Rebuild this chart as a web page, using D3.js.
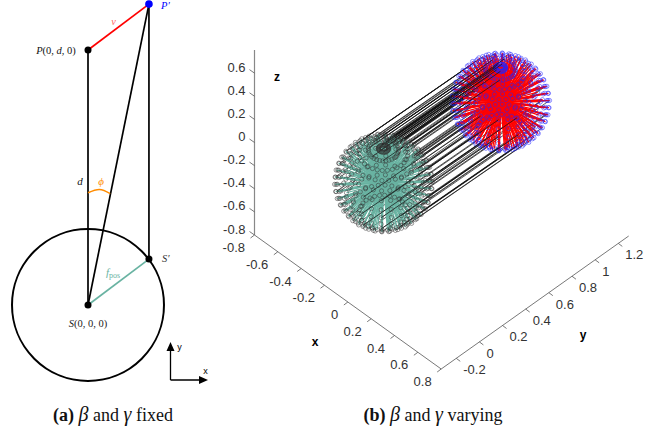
<!DOCTYPE html>
<html>
<head>
<meta charset="utf-8">
<script src="https://cdn.jsdelivr.net/npm/d3@7"></script>
<style>
body { margin: 0; background: #fff; }
svg { display: block; }
.serif { font-family: "Liberation Serif", serif; }
.sans { font-family: "Liberation Sans", sans-serif; }
</style>
</head>
<body>
<div class="chart"></div>
<script>
// left panel values, in units of d
var pointNames = ["S", "P", "Pp", "Sp"];
var pointX = [0, 0, 0.239, 0.239];
var pointY = [0, 1, 1.18, 0.18];
var sphereRadius = 0.298;
var phiArcX = [0, 0.045, 0.087];
var phiArcY = [0.44, 0.453, 0.437];

// right panel values
var xTicks = [-0.8, -0.6, -0.4, -0.2, 0, 0.2, 0.4, 0.6, 0.8];
var yTicks = [-0.2, 0, 0.2, 0.4, 0.6, 0.8, 1, 1.2];
var zTicks = [-0.8, -0.6, -0.4, -0.2, 0, 0.2, 0.4, 0.6];
var xDomain = [-0.8, 0.8];
var yDomain = [-0.33, 1.29];
var zDomain = [-0.8, 0.8];
var polarAngles = [6, 18, 30, 42, 54, 66, 78, 90, 102, 114, 126, 138, 150];
var azimuthAngles = [0, 12, 24, 36, 48, 60, 72, 84, 96, 108, 120, 132, 144, 156, 168,
    180, 192, 204, 216, 228, 240, 252, 264, 276, 288, 300, 312, 324, 336, 348];
// only these samples get a visible S' to P' link
var linkPolar = [6, 18, 42, 66, 90, 114, 138];
var linkAzimuth = [0, 24, 48, 72, 96, 120, 144, 168, 192, 216, 240, 264, 288, 312, 336];
// these few links run in front of the spheres
var frontPolar = [66, 90, 114];
var frontAzimuth = [288, 312, 336];
var polePolar = [6, 18];
var poleAzimuth = [120, 168, 216, 264, 312];
var centerS = [-0.008, -0.014, 0];
var centerP = [0.005, 0.985, 0];

var svgWidth = 668;
var svgHeight = 432;
var teal = "#69b3a2";

var svg = d3.select(".chart").append("svg")
    .attr("width", svgWidth)
    .attr("height", svgHeight);

// ---------- left panel ----------
var leftX = d3.scaleLinear().domain([0, 1]).range([88, 343]);
var leftY = d3.scaleLinear().domain([0, 1]).range([305, 50]);

function leftSeg(a, b, color, w) {
    svg.append("line")
        .attr("x1", leftX(pointX[a])).attr("y1", leftY(pointY[a]))
        .attr("x2", leftX(pointX[b])).attr("y2", leftY(pointY[b]))
        .attr("stroke", color).attr("stroke-width", w);
}

svg.append("circle")
    .attr("cx", leftX(0)).attr("cy", leftY(0))
    .attr("r", leftX(sphereRadius) - leftX(0))
    .attr("fill", "none").attr("stroke", "#000").attr("stroke-width", 2);

leftSeg(0, 1, "#000", 1.7);
leftSeg(0, 2, "#000", 1.7);
leftSeg(2, 3, "#000", 1.7);
leftSeg(1, 2, "#f00", 1.7);
leftSeg(0, 3, teal, 1.7);

svg.append("path")
    .attr("d", d3.line().x(d => leftX(d[0])).y(d => leftY(d[1])).curve(d3.curveNatural)(d3.zip(phiArcX, phiArcY)))
    .attr("fill", "none").attr("stroke", "#ff8c00").attr("stroke-width", 1.5);

pointNames.forEach(function (n, i) {
    svg.append("circle")
        .attr("cx", leftX(pointX[i])).attr("cy", leftY(pointY[i]))
        .attr("r", n == "Pp" ? 3.8 : 3.5)
        .attr("fill", n == "Pp" ? "#00f" : "#000");
});

function label(x, y, parts, size, color, anchor) {
    var t = svg.append("text")
        .attr("class", "serif")
        .attr("x", x).attr("y", y)
        .attr("font-size", size)
        .attr("fill", color)
        .attr("text-anchor", anchor || "middle");
    parts.forEach(function (p) {
        t.append("tspan")
            .attr("font-style", p[1] == "i" ? "italic" : "normal")
            .attr("font-weight", p[1] == "b" ? "bold" : "normal")
            .attr("font-size", p[2] || null)
            .attr("dy", p[3] || null)
            .text(p[0]);
    });
}

label(56, 54, [["P", "i"], ["(0, ", ""], ["d", "i"], [", 0)", ""]], 10.5, "#111");
label(161, 9, [["P′", "i"]], 10.5, "#00f", "start");
label(113.5, 25, [["v", "i"]], 10.5, "#f66");
label(80, 185, [["d", "i"]], 11, "#111");
label(101, 185, [["ϕ", "i"]], 11, "#ff8c00");
label(162, 262, [["S′", "i"]], 10.5, "#333", "start");
label(113, 276, [["f", "i"], ["pos", "", 8, 2]], 11, teal);
label(88, 327, [["S", "i"], ["(0, 0, 0)", ""]], 10.5, "#222");

// small y / x key with arrow heads
svg.append("path").attr("d", "M170.5,380V349M170.5,380H201")
    .attr("fill", "none").attr("stroke", "#000").attr("stroke-width", 1.3);
svg.append("path").attr("d", "M170.5,342L166.5,351H174.5ZM208,380L199,376V384Z").attr("fill", "#000");
svg.append("text").attr("class", "sans").attr("x", 179.5).attr("y", 350)
    .attr("font-size", 9).attr("text-anchor", "middle").text("y");
svg.append("text").attr("class", "sans").attr("x", 205.5).attr("y", 374)
    .attr("font-size", 9).attr("text-anchor", "middle").text("x");

// captions
label(113, 421, [["(a) ", "b"], ["β", "i", 20], [" and ", ""], ["γ", "i", 20], [" fixed", ""]], 18, "#111");
label(433, 421, [["(b) ", "b"], ["β", "i", 20], [" and ", ""], ["γ", "i", 20], [" varying", ""]], 18, "#111");

// ---------- right panel ----------
// each data axis maps to a screen offset along its own direction
var xToPx = d3.scaleLinear().domain(xDomain).range([0, 186.7]);
var xToPy = d3.scaleLinear().domain(xDomain).range([0, 134]);
var yToPx = d3.scaleLinear().domain(yDomain).range([0, 187.5]);
var yToPy = d3.scaleLinear().domain(yDomain).range([0, -133]);
var zToPy = d3.scaleLinear().domain(zDomain).range([0, -185]);
var origin = [254.5, 235];

function project(x, y, z) {
    return [origin[0] + xToPx(x) + yToPx(y), origin[1] + xToPy(x) + yToPy(y) + zToPy(z)];
}

var axes = svg.append("g").attr("fill", "none");
function axisLine(a, b, color, w) {
    var p = project(a[0], a[1], a[2]), q = project(b[0], b[1], b[2]);
    axes.append("line").attr("x1", p[0]).attr("y1", p[1]).attr("x2", q[0]).attr("y2", q[1])
        .attr("stroke", color).attr("stroke-width", w);
}
axisLine([xDomain[0], yDomain[0], zDomain[0]], [xDomain[1], yDomain[0], zDomain[0]], "#555", 0.8);
axisLine([xDomain[1], yDomain[0], zDomain[0]], [xDomain[1], yDomain[1], zDomain[0]], "#555", 0.8);
axisLine([xDomain[0], yDomain[0], zDomain[0]], [xDomain[0], yDomain[0], zDomain[1]], "#888", 1.2);

function tick(p, dx, dy) {
    axes.append("line").attr("x1", p[0]).attr("y1", p[1]).attr("x2", p[0] + dx).attr("y2", p[1] + dy)
        .attr("stroke", "#555").attr("stroke-width", 0.8);
}
function tickText(x, y, v, anchor) {
    svg.append("text").attr("class", "sans").attr("x", x).attr("y", y)
        .attr("font-size", 13).attr("fill", "#333").attr("text-anchor", anchor)
        .attr("dominant-baseline", "central").text(v);
}

xTicks.forEach(function (v) {
    var p = project(v, yDomain[0], zDomain[0]);
    tick(p, -4, 3);
    tickText(p[0] - 9.5, p[1] + 12.5, v, "end");
});
yTicks.forEach(function (v) {
    var p = project(xDomain[1], v, zDomain[0]);
    tick(p, 4, 3);
    tickText(p[0] + 7, p[1] + 11.5, v, "start");
});
zTicks.forEach(function (v) {
    var p = project(xDomain[0], yDomain[0], v);
    tick(p, -5, -3.5);
    tickText(p[0] - 9, p[1] - 6, v, "end");
});

[["x", 315, 342], ["y", 583, 335], ["z", 277, 77]].forEach(function (d) {
    svg.append("text").attr("class", "sans").attr("x", d[1]).attr("y", d[2])
        .attr("font-size", 12).attr("font-weight", "bold").attr("text-anchor", "middle")
        .attr("dominant-baseline", "central").text(d[0]);
});

// sphere sample points: every polar angle crossed with every azimuth
var rad = d3.scaleLinear().domain([0, 180]).range([0, Math.PI]);
function sample(polar, azimuth) {
    var out = [];
    polar.forEach(function (t) {
        azimuth.forEach(function (a) {
            out.push([
                sphereRadius * Math.sin(rad(t)) * Math.cos(rad(a)),
                sphereRadius * Math.sin(rad(t)) * Math.sin(rad(a)),
                sphereRadius * Math.cos(rad(t))
            ]);
        });
    });
    return out;
}
var directions = sample(polarAngles, azimuthAngles);

function onSphere(c, d) {
    return project(c[0] + d[0], c[1] + d[1], c[2] + d[2]);
}

function drawLinks(list) {
    svg.append("g").attr("stroke", "#111").attr("stroke-width", 0.7)
        .selectAll("line").data(list).enter().append("line")
        .attr("x1", d => onSphere(centerS, d)[0]).attr("y1", d => onSphere(centerS, d)[1])
        .attr("x2", d => onSphere(centerP, d)[0]).attr("y2", d => onSphere(centerP, d)[1]);
}

function spokes(c, color) {
    var mid = project(c[0], c[1], c[2]);
    svg.append("g").attr("stroke", color).attr("stroke-width", 1.2)
        .selectAll("line").data(directions).enter().append("line")
        .attr("x1", mid[0]).attr("y1", mid[1])
        .attr("x2", d => onSphere(c, d)[0]).attr("y2", d => onSphere(c, d)[1]);
}

function rings(c, color) {
    svg.append("g").attr("fill", "none").attr("stroke", color).attr("stroke-width", 0.5)
        .selectAll("circle").data(directions).enter().append("circle")
        .attr("cx", d => onSphere(c, d)[0]).attr("cy", d => onSphere(c, d)[1])
        .attr("r", 2.1);
}

drawLinks(sample(linkPolar, linkAzimuth));
spokes(centerS, teal);
spokes(centerP, "#f00");
rings(centerP, "#22f");
drawLinks(sample(frontPolar, frontAzimuth));
drawLinks(sample(polePolar, poleAzimuth));
rings(centerS, "#333");
</script>
</body>
</html>
